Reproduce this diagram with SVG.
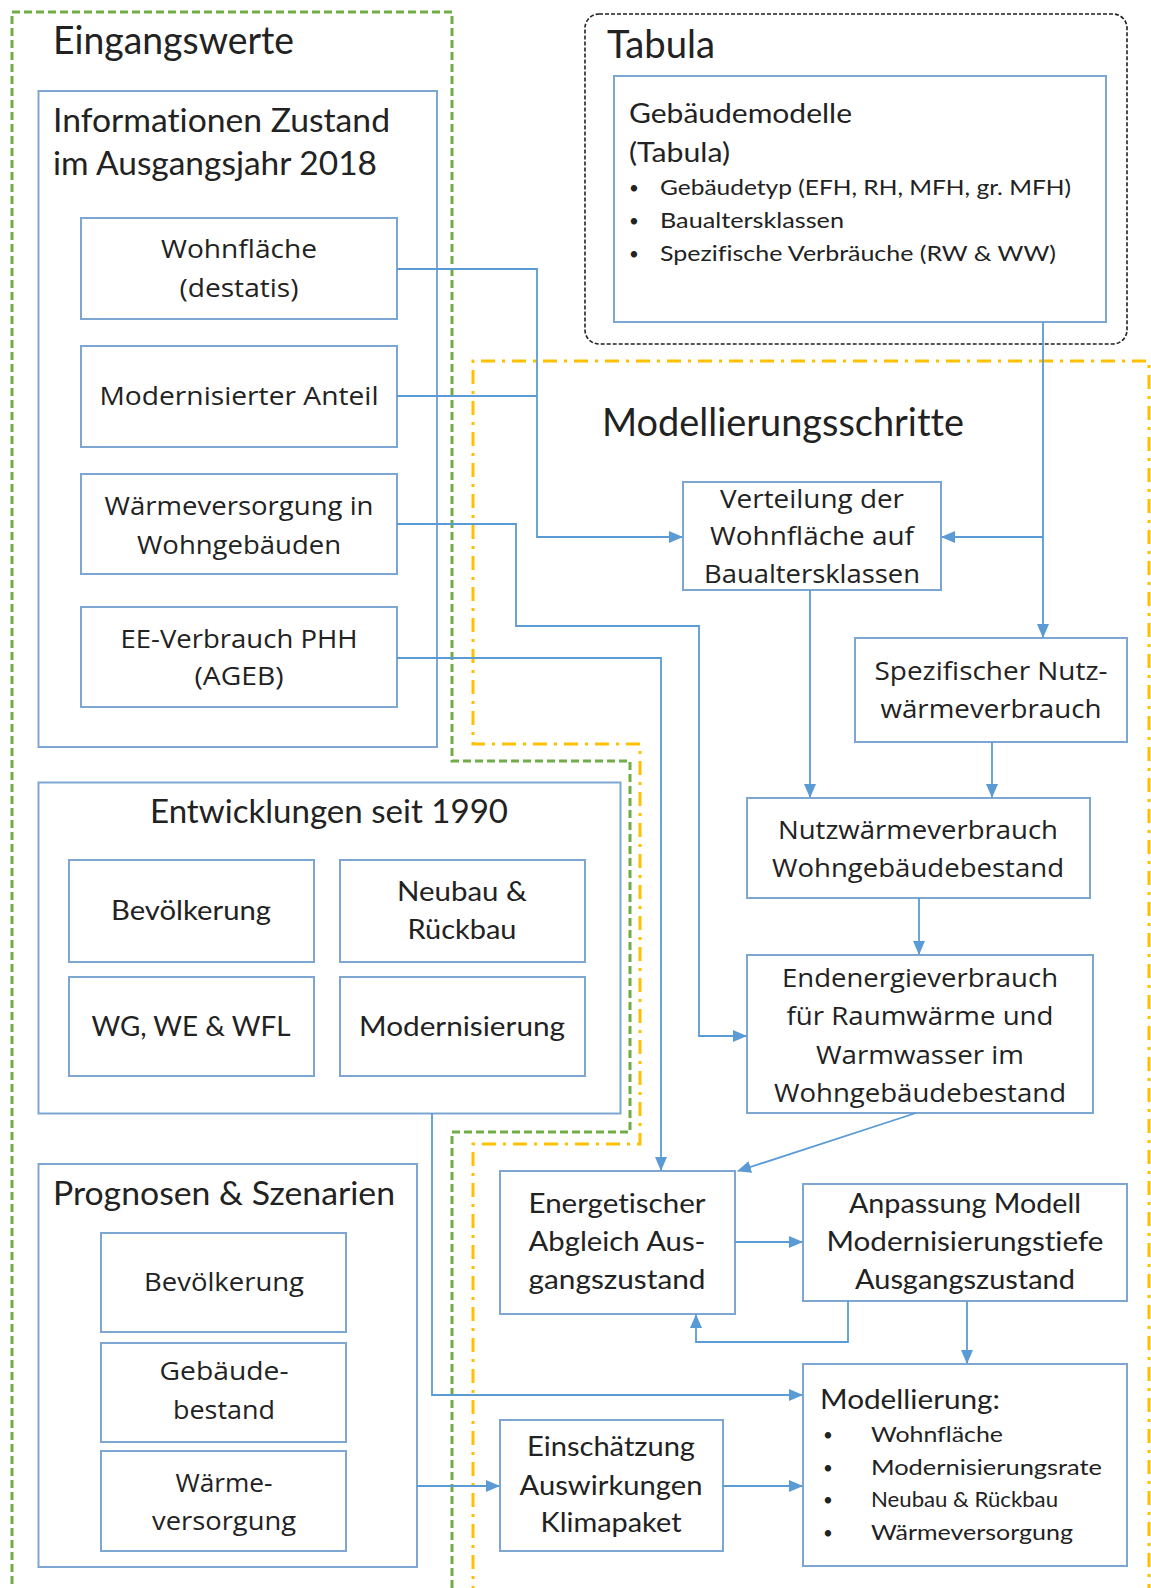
<svg xmlns="http://www.w3.org/2000/svg" width="1151" height="1588" viewBox="0 0 1151 1588">
<style>
.bg{fill:#ffffff}
.box{fill:#ffffff;stroke:#7ea6d3;stroke-width:2}
.grp{fill:none;stroke:#7ea6d3;stroke-width:2}
.tab{fill:none;stroke:#222;stroke-width:1.6;stroke-dasharray:4 2}
.green{fill:none;stroke:#70ad47;stroke-width:3;stroke-dasharray:8 4}
.yellow{fill:none;stroke:#ffc000;stroke-width:3;stroke-dasharray:14 7 3 7}
.con{fill:none;stroke:#5b9bd5;stroke-width:1.8}
text{fill:#222;font-variant-ligatures:none;font-feature-settings:"liga" 0}
.t{font-family:"Open Sans","Noto Sans",sans-serif;font-size:25px}
.c{font-family:Lato,"Liberation Sans",sans-serif;font-size:26px}
.m{text-anchor:middle}
.h1{font-family:Lato,"Liberation Sans",sans-serif;font-size:38px}
.h2c{font-family:Lato,"Liberation Sans",sans-serif;font-size:33px}
.bc{font-family:Lato,"Liberation Sans",sans-serif;font-size:21px}
.dot{font-family:Lato,"Liberation Sans",sans-serif;font-size:17px}
</style>
<defs>
<marker id="arr" markerUnits="userSpaceOnUse" markerWidth="14" markerHeight="12" refX="13" refY="6" orient="auto">
<path d="M0,0 L14,6 L0,12 z" fill="#5b9bd5"/>
</marker>
</defs>
<rect class="bg" x="0" y="0" width="1151" height="1588"/>

<g id="frames">
<path class="green" d="M452,1600 L452,1132 L630,1132 L630,761 L452,761 L452,12 L12,12 L12,1600"/>
<path class="yellow" d="M473,1600 L473,1144 L640,1144 L640,744 L473,744 L473,361 L1149,361 L1149,1600"/>
<rect class="tab" x="585" y="14" width="542" height="330" rx="14" ry="14"/>
</g>

<g id="eingangswerte">
<text class="h1" x="53" y="54" textLength="241" lengthAdjust="spacingAndGlyphs">Eingangswerte</text>
</g>

<g id="informationen">
<rect class="grp" x="38.5" y="91" width="398.5" height="656"/>
<text class="h2c" x="53" y="132" textLength="337" lengthAdjust="spacingAndGlyphs">Informationen Zustand</text>
<text class="h2c" x="53" y="175" textLength="324" lengthAdjust="spacingAndGlyphs">im Ausgangsjahr 2018</text>
</g>
<g id="wohnflaeche">
<rect class="box" x="81" y="218" width="316" height="101"/>
<text class="t m" x="239" y="258" textLength="156" lengthAdjust="spacingAndGlyphs">Wohnfläche</text>
<text class="t m" x="239" y="297" textLength="119" lengthAdjust="spacingAndGlyphs">(destatis)</text>
</g>
<g id="modernisierter-anteil">
<rect class="box" x="81" y="346" width="316" height="101"/>
<text class="t m" x="239" y="405" textLength="279" lengthAdjust="spacingAndGlyphs">Modernisierter Anteil</text>
</g>
<g id="waermeversorgung">
<rect class="box" x="81" y="474" width="316" height="100"/>
<text class="t m" x="239" y="515" textLength="269" lengthAdjust="spacingAndGlyphs">Wärmeversorgung in</text>
<text class="t m" x="239" y="554" textLength="204" lengthAdjust="spacingAndGlyphs">Wohngebäuden</text>
</g>
<g id="ee-verbrauch">
<rect class="box" x="81" y="607" width="316" height="100"/>
<text class="t m" x="239" y="648" textLength="237" lengthAdjust="spacingAndGlyphs">EE-Verbrauch PHH</text>
<text class="t m" x="239" y="685" textLength="89" lengthAdjust="spacingAndGlyphs">(AGEB)</text>
</g>

<g id="entwicklungen">
<rect class="grp" x="38.5" y="782.5" width="582" height="331"/>
<text class="h2c m" x="329" y="823" textLength="358" lengthAdjust="spacingAndGlyphs">Entwicklungen seit 1990</text>
</g>
<g id="e-bevoelkerung">
<rect class="box" x="69" y="860" width="245" height="102"/>
<text class="c m" x="191" y="920" textLength="160" lengthAdjust="spacingAndGlyphs">Bevölkerung</text>
</g>
<g id="e-neubau">
<rect class="box" x="340" y="860" width="245" height="102"/>
<text class="c m" x="462" y="901" textLength="130" lengthAdjust="spacingAndGlyphs">Neubau &amp;</text>
<text class="c m" x="462" y="939" textLength="109" lengthAdjust="spacingAndGlyphs">Rückbau</text>
</g>
<g id="e-wg">
<rect class="box" x="69" y="977" width="245" height="99"/>
<text class="c m" x="191" y="1036" textLength="199" lengthAdjust="spacingAndGlyphs">WG, WE &amp; WFL</text>
</g>
<g id="e-modernisierung">
<rect class="box" x="340" y="977" width="245" height="99"/>
<text class="c m" x="462" y="1036" textLength="206" lengthAdjust="spacingAndGlyphs">Modernisierung</text>
</g>

<g id="prognosen">
<rect class="grp" x="38.5" y="1164" width="378.5" height="403"/>
<text class="h2c" x="53" y="1205" textLength="342" lengthAdjust="spacingAndGlyphs">Prognosen &amp; Szenarien</text>
</g>
<g id="p-bevoelkerung">
<rect class="box" x="101" y="1233" width="245" height="99"/>
<text class="t m" x="224" y="1291" textLength="160" lengthAdjust="spacingAndGlyphs">Bevölkerung</text>
</g>
<g id="p-gebaeude">
<rect class="box" x="101" y="1343" width="245" height="99"/>
<text class="t m" x="224" y="1380" textLength="129" lengthAdjust="spacingAndGlyphs">Gebäude-</text>
<text class="t m" x="224" y="1419" textLength="102" lengthAdjust="spacingAndGlyphs">bestand</text>
</g>
<g id="p-waerme">
<rect class="box" x="101" y="1451" width="245" height="100"/>
<text class="t m" x="224" y="1492" textLength="97" lengthAdjust="spacingAndGlyphs">Wärme-</text>
<text class="t m" x="224" y="1530" textLength="144" lengthAdjust="spacingAndGlyphs">versorgung</text>
</g>

<g id="tabula">
<text class="h1" x="607" y="58" textLength="108" lengthAdjust="spacingAndGlyphs">Tabula</text>
</g>
<g id="gebaeudemodelle">
<rect class="box" x="614" y="76" width="492" height="246"/>
<text class="c" x="629" y="123" textLength="223" lengthAdjust="spacingAndGlyphs">Gebäudemodelle</text>
<text class="c" x="629" y="162" textLength="101" lengthAdjust="spacingAndGlyphs">(Tabula)</text>
<text class="dot" x="629" y="194">•</text>
<text class="bc" x="660" y="195" textLength="411" lengthAdjust="spacingAndGlyphs">Gebäudetyp (EFH, RH, MFH, gr. MFH)</text>
<text class="dot" x="629" y="227">•</text>
<text class="bc" x="660" y="228" textLength="184" lengthAdjust="spacingAndGlyphs">Baualtersklassen</text>
<text class="dot" x="629" y="260">•</text>
<text class="bc" x="660" y="261" textLength="396" lengthAdjust="spacingAndGlyphs">Spezifische Verbräuche (RW &amp; WW)</text>
</g>

<g id="modellierungsschritte">
<text class="h1" x="602" y="436" textLength="362" lengthAdjust="spacingAndGlyphs">Modellierungsschritte</text>
</g>
<g id="verteilung">
<rect class="box" x="683" y="482" width="258" height="108"/>
<text class="t m" x="812" y="508" textLength="184" lengthAdjust="spacingAndGlyphs">Verteilung der</text>
<text class="t m" x="812" y="545" textLength="204" lengthAdjust="spacingAndGlyphs">Wohnfläche auf</text>
<text class="t m" x="812" y="583" textLength="216" lengthAdjust="spacingAndGlyphs">Baualtersklassen</text>
</g>
<g id="spezifischer">
<rect class="box" x="855" y="638" width="272" height="104"/>
<text class="t m" x="991" y="680" textLength="233" lengthAdjust="spacingAndGlyphs">Spezifischer Nutz-</text>
<text class="t m" x="991" y="718" textLength="221" lengthAdjust="spacingAndGlyphs">wärmeverbrauch</text>
</g>
<g id="nutzwaerme">
<rect class="box" x="747" y="798" width="343" height="100"/>
<text class="t m" x="918" y="839" textLength="280" lengthAdjust="spacingAndGlyphs">Nutzwärmeverbrauch</text>
<text class="t m" x="918" y="877" textLength="292" lengthAdjust="spacingAndGlyphs">Wohngebäudebestand</text>
</g>
<g id="endenergie">
<rect class="box" x="747" y="955" width="346" height="158"/>
<text class="t m" x="920" y="987" textLength="276" lengthAdjust="spacingAndGlyphs">Endenergieverbrauch</text>
<text class="t m" x="920" y="1025" textLength="267" lengthAdjust="spacingAndGlyphs">für Raumwärme und</text>
<text class="t m" x="920" y="1064" textLength="208" lengthAdjust="spacingAndGlyphs">Warmwasser im</text>
<text class="t m" x="920" y="1102" textLength="292" lengthAdjust="spacingAndGlyphs">Wohngebäudebestand</text>
</g>
<g id="energetischer">
<rect class="box" x="500" y="1171" width="235" height="143"/>
<text class="c m" x="617" y="1213" textLength="177" lengthAdjust="spacingAndGlyphs">Energetischer</text>
<text class="c m" x="617" y="1251" textLength="177" lengthAdjust="spacingAndGlyphs">Abgleich Aus-</text>
<text class="c m" x="617" y="1289" textLength="177" lengthAdjust="spacingAndGlyphs">gangszustand</text>
</g>
<g id="anpassung">
<rect class="box" x="803" y="1184" width="324" height="117"/>
<text class="c m" x="965" y="1213" textLength="232" lengthAdjust="spacingAndGlyphs">Anpassung Modell</text>
<text class="c m" x="965" y="1251" textLength="277" lengthAdjust="spacingAndGlyphs">Modernisierungstiefe</text>
<text class="c m" x="965" y="1289" textLength="220" lengthAdjust="spacingAndGlyphs">Ausgangszustand</text>
</g>
<g id="modellierung">
<rect class="box" x="803" y="1364" width="324" height="202"/>
<text class="c" x="820" y="1409" textLength="180" lengthAdjust="spacingAndGlyphs">Modellierung:</text>
<text class="dot" x="823" y="1441">•</text>
<text class="bc" x="871" y="1442" textLength="132" lengthAdjust="spacingAndGlyphs">Wohnfläche</text>
<text class="dot" x="823" y="1474">•</text>
<text class="bc" x="871" y="1475" textLength="231" lengthAdjust="spacingAndGlyphs">Modernisierungsrate</text>
<text class="dot" x="823" y="1506">•</text>
<text class="bc" x="871" y="1507" textLength="187" lengthAdjust="spacingAndGlyphs">Neubau &amp; Rückbau</text>
<text class="dot" x="823" y="1539">•</text>
<text class="bc" x="871" y="1540" textLength="202" lengthAdjust="spacingAndGlyphs">Wärmeversorgung</text>
</g>
<g id="einschaetzung">
<rect class="box" x="500" y="1420" width="223" height="131"/>
<text class="c m" x="611" y="1456" textLength="168" lengthAdjust="spacingAndGlyphs">Einschätzung</text>
<text class="c m" x="611" y="1495" textLength="183" lengthAdjust="spacingAndGlyphs">Auswirkungen</text>
<text class="c m" x="611" y="1532" textLength="141" lengthAdjust="spacingAndGlyphs">Klimapaket</text>
</g>

<g id="connectors">
<path class="con" d="M397,269 L537,269 L537,537 L682,537" marker-end="url(#arr)"/>
<path class="con" d="M397,396 L537,396"/>
<path class="con" d="M397,524 L516,524 L516,626 L699,626 L699,1036 L746,1036" marker-end="url(#arr)"/>
<path class="con" d="M397,658 L661,658 L661,1170" marker-end="url(#arr)"/>
<path class="con" d="M1043,322 L1043,537 L942,537" marker-end="url(#arr)"/>
<path class="con" d="M1043,537 L1043,637" marker-end="url(#arr)"/>
<path class="con" d="M810,590 L810,797" marker-end="url(#arr)"/>
<path class="con" d="M992,742 L992,797" marker-end="url(#arr)"/>
<path class="con" d="M919,898 L919,954" marker-end="url(#arr)"/>
<path class="con" d="M916,1113 L738,1171" marker-end="url(#arr)"/>
<path class="con" d="M735,1242 L802,1242" marker-end="url(#arr)"/>
<path class="con" d="M848,1301 L848,1342 L696,1342 L696,1315" marker-end="url(#arr)"/>
<path class="con" d="M967,1301 L967,1363" marker-end="url(#arr)"/>
<path class="con" d="M432,1113 L432,1395 L802,1395" marker-end="url(#arr)"/>
<path class="con" d="M417,1486 L499,1486" marker-end="url(#arr)"/>
<path class="con" d="M723,1486 L802,1486" marker-end="url(#arr)"/>
</g>
</svg>
